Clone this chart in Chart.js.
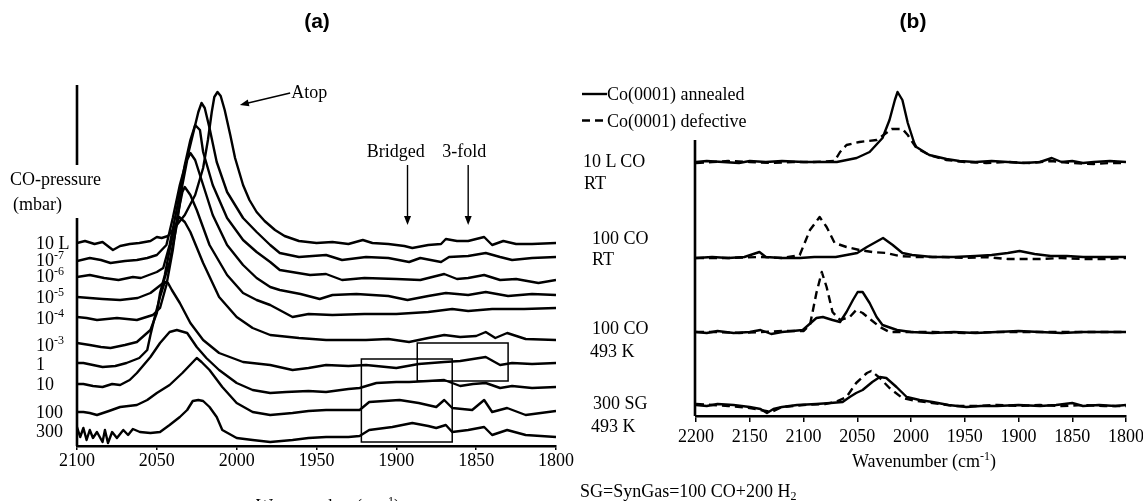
<!DOCTYPE html>
<html><head><meta charset="utf-8">
<script src="https://cdn.jsdelivr.net/npm/chart.js@4.4.1/dist/chart.umd.min.js"></script>
<style>
html,body{margin:0;padding:0;background:#fff;width:1143px;height:501px;overflow:hidden;position:relative;}
.box{position:absolute;}
.t{position:absolute;font-family:'Liberation Serif','Times New Roman',serif;font-size:18px;line-height:18px;color:#000;white-space:nowrap;}
.h{position:absolute;font-family:'Liberation Sans',Arial,sans-serif;font-weight:bold;font-size:21px;line-height:21px;width:100px;text-align:center;color:#000;}
sup{font-size:12px;vertical-align:7px;line-height:0;}
sub{font-size:12px;vertical-align:-3px;line-height:0;}
</style></head><body>
<div class="box" style="left:0;top:0;width:600px;height:501px"><canvas id="ca"></canvas></div>
<div class="box" style="left:560px;top:0;width:600px;height:501px"><canvas id="cb"></canvas></div>
<div class="h" style="left:267px;top:10px">(a)</div>
<div class="h" style="left:863px;top:10px">(b)</div>
<div class="t" style="left:10px;top:170px">CO-pressure</div>
<div class="t" style="left:13px;top:195px">(mbar)</div>
<div class="t" style="left:178px;top:497px;width:300px;text-align:center">Wavenumber (cm<sup>-1</sup>)</div>
<div class="t" style="left:774px;top:452px;width:300px;text-align:center">Wavenumber (cm<sup>-1</sup>)</div>
<div class="t" style="left:583px;top:152px">10 L CO</div>
<div class="t" style="left:584px;top:174px">RT</div>
<div class="t" style="left:592px;top:229px">100 CO</div>
<div class="t" style="left:592px;top:250px">RT</div>
<div class="t" style="left:592px;top:319px">100 CO</div>
<div class="t" style="left:590px;top:342px">493 K</div>
<div class="t" style="left:593px;top:394px">300 SG</div>
<div class="t" style="left:591px;top:417px">493 K</div>
<div class="t" style="left:580px;top:482px">SG=SynGas=100 CO+200 H<sub>2</sub></div>
<script>
// ---------- Panel (a): CO pressure series, [wavenumber cm-1, offset absorbance (a.u.)] ----------
const ticksA = [2100, 2050, 2000, 1950, 1900, 1850, 1800];
const ticksB = [2200, 2150, 2100, 2050, 2000, 1950, 1900, 1850, 1800];
const pressureLabels = ["10 L", "10^-7", "10^-6", "10^-5", "10^-4", "10^-3", "1", "10", "100", "300"];

const p10L = [[2100,203],[2095,205],[2089,202],[2084,204],[2077.5,196],[2073,200],[2067,202],[2061,203],[2054,205],[2050,209],[2047,208],[2043,210],[2039,218],[2032.5,231],[2026,251],[2021,278],[2018,306],[2015.6,334],[2014,349],[2012,354],[2010,350],[2007.5,336],[2004,311],[2001,288],[1996,261],[1992,246],[1987.5,234],[1982.5,225],[1976,216],[1970,210],[1961,205],[1950,203],[1940,204],[1930,202],[1921,206],[1915,203],[1905,202],[1895,200],[1890,198],[1880,201],[1872,202],[1869,207],[1862,205],[1855,205],[1845,209],[1840,201],[1833,205],[1825,202],[1815,202],[1800,203]];
const p1e7 = [[2100,185],[2092,188],[2085,186],[2079,183],[2070,185],[2062.5,186],[2056,188],[2050,191],[2044,201],[2040,228],[2035.6,261],[2031,288],[2027.5,311],[2024,334],[2022,343],[2020,338],[2017,318],[2012.5,284],[2006,254],[1996,228],[1987.5,214],[1979,201],[1973,193],[1961,189],[1944,191],[1934,186],[1919,189],[1905,188],[1892,184],[1885,188],[1872,184],[1867,189],[1855,190],[1844,193],[1835,189],[1827.5,186],[1815,188],[1800,189]];
const p1e6 = [[2100,169],[2092,171],[2083,168],[2074,166],[2065,169],[2060,168],[2050,174],[2046,178],[2042,201],[2037,241],[2032.5,281],[2029,306],[2026,321],[2023,316],[2021,294],[2015,261],[2006,228],[1996,206],[1987.5,194],[1979,184],[1973,176],[1954,171],[1944,172],[1934,166],[1920,168],[1900,167],[1885,166],[1870,172],[1862,167],[1855,168],[1845,171],[1835,166],[1825,167],[1811,163],[1800,166]];
const p1e5 = [[2100,149],[2092,148],[2084,147],[2073,146],[2062,148],[2054,153],[2046,163],[2042,184],[2037.5,221],[2034,261],[2031,286],[2029,293],[2026,286],[2021,261],[2015,231],[2006,201],[1996,181],[1987.5,168],[1979,159],[1973,156],[1960,152],[1948,147],[1940,151],[1925,152],[1905,150],[1893,146],[1880,150],[1869,153],[1855,151],[1844,154],[1830,150],[1815,152],[1800,151]];
const p1e4 = [[2100,129],[2094,128],[2087.5,126],[2075,128],[2062.5,126],[2052.5,131],[2048,138],[2044,161],[2040,196],[2037,231],[2034,254],[2032.5,259],[2029,251],[2025,236],[2017,201],[2006,171],[1996,153],[1987.5,146],[1979,141],[1965,129],[1955,132],[1940,131],[1920,132],[1900,132],[1880,134],[1865,137],[1855,135],[1840,137],[1820,137],[1800,138]];
const p1e3 = [[2100,103],[2092,101],[2085,99],[2079,98],[2070,101],[2062.5,104],[2054,116],[2050,133],[2048,153],[2045,171],[2042,196],[2039,218],[2036,229],[2032.5,224],[2029,214],[2021,183],[2011,149],[2000,129],[1990,118],[1979,111],[1961,108],[1944,106],[1930,106],[1919,106],[1905,107],[1892,104],[1880,108],[1870,111],[1860,109],[1850,110],[1844,114],[1838,108],[1830.6,113],[1819,107],[1800,106]];
const p1 = [[2100,83],[2096,83],[2090,81],[2084,79],[2076,80],[2069,83],[2061,88],[2056,96],[2054,111],[2051,131],[2048,149],[2046,159],[2045,164],[2043,163],[2040.6,156],[2035.6,143],[2029,123],[2021,106],[2011,93],[1996,84],[1979,81],[1965,76],[1955,78],[1944,81],[1930,80],[1919,81],[1900,78],[1886,82],[1870,84],[1860,85],[1844,89],[1835,81],[1827.5,83],[1815,82],[1800,83]];
const p10 = [[2100,62],[2096,62],[2090,60],[2084,59],[2078,62],[2073,61],[2067,66],[2062.5,73],[2054,89],[2048,103],[2042,114],[2037.5,116],[2031,113],[2025,99],[2019,88],[2011,76],[2000,63],[1990,56],[1979,53],[1969,54],[1955,55],[1944,54],[1930,57],[1923,58],[1912.5,63],[1900,64],[1892,64],[1880,65],[1870,66],[1860,60],[1852,62],[1844,63],[1835,58],[1827.5,60],[1815,58],[1800,59]];
const p100 = [[2100,34],[2096,34],[2092,33],[2087.5,31],[2080,35],[2073,39],[2062.5,41],[2056,46],[2050,53],[2042,61],[2034,73],[2028,83],[2025,88],[2022,84],[2017,76],[2009,59],[2000,43],[1990,34],[1979,31],[1965,33],[1955,35],[1944,36],[1930,36],[1923,36],[1917,44],[1898,46],[1886,43],[1875,39],[1870,46],[1865,38],[1852.5,36],[1845,46],[1840,34],[1830.6,38],[1819,31],[1800,35]];
const p300 = [[2100,19],[2098,9],[2096,18],[2094,6],[2092,16],[2090,8],[2087.5,14],[2084,4],[2082.5,16],[2080.6,3],[2078,14],[2075,8],[2071,16],[2068,11],[2065,17],[2060.6,14],[2054,13],[2048,14],[2042,21],[2035.6,29],[2031,36],[2027.5,45],[2024,46],[2021,45],[2017,39],[2012.5,29],[2009,16],[2000,8],[1990,6],[1979,4],[1965,6],[1955,8],[1944,9],[1930,9],[1923,10],[1917,16],[1902.5,19],[1890,23],[1880,20],[1875,18],[1869,21],[1865,14],[1855,16],[1845,19],[1840,11],[1830.6,16],[1819,11],[1800,9]];
const tracesA = [p10L, p1e7, p1e6, p1e5, p1e4, p1e3, p1, p10, p100, p300];

// annotations of panel (a), in data units
const axisSpanA = [0, 228];
const scaleBarA = [281, 361];
const atopArrow = { text: "Atop", from: [1966.5, 353], to: [1998, 341] };
const siteArrows = [
  { text: "Bridged", textAt: [1900.3, 289], wn: 1893, from: 281, to: 221 },
  { text: "3-fold", textAt: [1857.5, 289], wn: 1855, from: 281, to: 221 }
];
const boxesA = [[1921.9, 1865, 4, 87], [1886.9, 1830, 65, 103]];

// ---------- Panel (b): annealed (solid) vs defective (dashed) ----------
const legendB = ["Co(0001) annealed", "Co(0001) defective"];
const b1Ann = [[2200,254],[2190,255],[2175,254],[2160,253],[2150,255],[2135,254],[2120,255],[2100,254],[2085,254],[2069,254],[2050.6,258],[2038.5,264],[2026.5,278],[2020,296],[2015,316],[2012.5,324],[2008,316],[2003,293],[1997,273],[1995,269],[1983,261],[1967,257],[1955,255],[1940,254],[1925,255],[1910,254],[1895,253],[1880,254],[1869,258],[1860,254],[1850,255],[1840,253],[1830,254],[1815,255],[1800,254]];
const b1Def = [[2200,253],[2185,254],[2170,255],[2150,254],[2130,253],[2110,254],[2090,254],[2071,255],[2066,264],[2060,271],[2048,274],[2032,276],[2023,283],[2018,287],[2008,287],[2003,281],[1995,268],[1983,261],[1967,256],[1950,254],[1930,253],[1910,254],[1890,253],[1870,255],[1850,253],[1830,252],[1815,253],[1800,253]];
const b2Ann = [[2200,158],[2185,159],[2170,158],[2155,159],[2141,164],[2135,159],[2120,158],[2103,158],[2090,159],[2070,159],[2050,163],[2041,169],[2026,178],[2017,171],[2008,163],[1999,161],[1980,159],[1960,159],[1940,160],[1925,161],[1910,163],[1899,165],[1885,162],[1870,160],[1855,160],[1840,159],[1820,159],[1800,159]];
const b2Def = [[2200,158],[2170,158],[2140,159],[2120,158],[2103.5,161],[2094,186],[2085,199],[2078.5,189],[2071,173],[2060,169],[2048,166],[2036,164],[2023,163],[2011,160],[1995,159],[1970,159],[1950,158],[1930,159],[1910,157],[1899,157],[1880,157],[1860,158],[1840,157],[1820,157],[1800,158]];
const b3Ann = [[2200,84],[2190,83],[2180,85],[2165,83],[2150,84],[2140,86],[2130,82],[2120,84],[2110,85],[2100.7,86],[2088,98],[2082,99],[2073,96],[2066,94],[2060,104],[2054,116],[2049.6,124],[2045,124],[2038.5,113],[2032,99],[2026.5,91],[2013,86],[2000,84],[1980,83],[1960,84],[1940,83],[1920,84],[1900,85],[1880,84],[1860,83],[1840,84],[1820,84],[1800,84]];
const b3Def = [[2200,84],[2180,84],[2160,83],[2140,84],[2120,85],[2100,85],[2094,91],[2088,123],[2083,144],[2078.5,129],[2073,104],[2066,96],[2057,99],[2051,106],[2045,103],[2037,96],[2029,89],[2020,84],[2000,84],[1980,84],[1950,83],[1920,84],[1890,84],[1860,84],[1830,84],[1800,84]];
const b4Ann = [[2200,11],[2190,10],[2180,12],[2165,11],[2150,9],[2140,7],[2134,3],[2128,7],[2120,9],[2106,11],[2088,12],[2075,13],[2063.6,14],[2057,19],[2051,23],[2045,26],[2036,34],[2029,39],[2023,38],[2013.5,29],[2004,19],[1992,16],[1980,14],[1965,11],[1948.5,9],[1935,10],[1920,10],[1900,11],[1880,10],[1865,11],[1850,13],[1840,10],[1825,11],[1810,10],[1800,11]];
const b4Def = [[2200,12],[2185,11],[2170,10],[2150,8],[2140,6],[2130,4],[2120,9],[2100,11],[2080,12],[2070,14],[2060,19],[2051,33],[2041,43],[2037,45],[2029,38],[2020,28],[2008,18],[1995,15],[1980,13],[1960,10],[1940,10],[1920,11],[1900,10],[1880,11],[1860,10],[1840,11],[1820,10],[1800,10]];
const annealedB = [b1Ann, b2Ann, b3Ann, b4Ann];
const defectiveB = [b1Def, b2Def, b3Def, b4Def];
const axisSpanB = [0, 276];

// ---------- helpers ----------
const SERIF = "'Liberation Serif','Times New Roman',serif";
const LW = 2.4;
function toXY(arr){ return arr.map(p => ({x: p[0], y: p[1]})); }
function seg(ctx, x1, y1, x2, y2){ ctx.beginPath(); ctx.moveTo(x1, y1); ctx.lineTo(x2, y2); ctx.stroke(); }
function arrowHead(ctx, x1, y1, x2, y2, len, half){
  const a = Math.atan2(y2 - y1, x2 - x1);
  ctx.beginPath();
  ctx.moveTo(x2, y2);
  ctx.lineTo(x2 - len*Math.cos(a) + half*Math.sin(a), y2 - len*Math.sin(a) - half*Math.cos(a));
  ctx.lineTo(x2 - len*Math.cos(a) - half*Math.sin(a), y2 - len*Math.sin(a) + half*Math.cos(a));
  ctx.closePath(); ctx.fill();
}
function drawPowLabel(ctx, label, x, y){
  ctx.textAlign = 'left'; ctx.textBaseline = 'alphabetic';
  const parts = label.split('^');
  ctx.font = '18px ' + SERIF;
  ctx.fillText(parts[0], x, y);
  if (parts.length > 1){
    const w = ctx.measureText(parts[0]).width;
    ctx.font = '12px ' + SERIF;
    ctx.fillText(parts[1], x + w, y - 7);
  }
}

const annotA = {
  id: 'annotA',
  afterDraw(chart){
    const {ctx, scales: {x, y}} = chart;
    ctx.save();
    ctx.strokeStyle = '#000'; ctx.fillStyle = '#000';
    // y axis & intensity bar
    ctx.lineWidth = 2.6; ctx.lineCap = 'butt';
    const x0 = x.getPixelForValue(2100);
    seg(ctx, x0, y.getPixelForValue(axisSpanA[0]), x0, y.getPixelForValue(axisSpanA[1]));
    seg(ctx, x0, y.getPixelForValue(scaleBarA[0]), x0, y.getPixelForValue(scaleBarA[1]));
    // pressure labels next to the trace starts
    tracesA.forEach((tr, i) => {
      const lvl = tr.slice(0, 5).reduce((s, p) => s + p[1], 0) / 5;
      drawPowLabel(ctx, pressureLabels[i], 36, y.getPixelForValue(lvl) + 5);
    });
    // Atop arrow
    ctx.lineWidth = 1.4;
    const ax1 = x.getPixelForValue(atopArrow.from[0]), ay1 = y.getPixelForValue(atopArrow.from[1]);
    const ax2 = x.getPixelForValue(atopArrow.to[0]), ay2 = y.getPixelForValue(atopArrow.to[1]);
    seg(ctx, ax1, ay1, ax2 + 4, ay2 - 1);
    arrowHead(ctx, ax1, ay1, ax2, ay2, 9, 3.5);
    ctx.font = '18px ' + SERIF; ctx.textAlign = 'left'; ctx.textBaseline = 'alphabetic';
    ctx.fillText(atopArrow.text, ax1 + 1, ay1 + 5);
    // site arrows
    siteArrows.forEach(s => {
      const sx = x.getPixelForValue(s.wn);
      const sy1 = y.getPixelForValue(s.from), sy2 = y.getPixelForValue(s.to);
      seg(ctx, sx, sy1, sx, sy2 - 6);
      arrowHead(ctx, sx, sy1, sx, sy2, 9, 3.5);
      ctx.textAlign = 'center';
      ctx.fillText(s.text, x.getPixelForValue(s.textAt[0]), y.getPixelForValue(s.textAt[1]));
    });
    // boxes
    ctx.lineWidth = 1.5;
    boxesA.forEach(b => {
      const l = x.getPixelForValue(b[0]), r = x.getPixelForValue(b[1]);
      const bt = y.getPixelForValue(b[3]), bb = y.getPixelForValue(b[2]);
      ctx.strokeRect(l, bt, r - l, bb - bt);
    });
    ctx.restore();
  }
};

const annotB = {
  id: 'annotB',
  afterDraw(chart){
    const {ctx, scales: {x, y}} = chart;
    ctx.save();
    ctx.strokeStyle = '#000'; ctx.fillStyle = '#000';
    ctx.lineWidth = 2.6;
    const x0 = x.getPixelForValue(2200);
    seg(ctx, x0 - 1, y.getPixelForValue(axisSpanB[0]), x0 - 1, y.getPixelForValue(axisSpanB[1]));
    // legend
    const ds = chart.data.datasets;
    [0, 1].forEach(i => {
      const ly = 94 + i * 26.5;
      ctx.lineWidth = LW;
      ctx.setLineDash(ds[i].borderDash || []);
      seg(ctx, 22, ly, 47, ly);
      ctx.setLineDash([]);
      ctx.font = '18px ' + SERIF; ctx.textAlign = 'left'; ctx.textBaseline = 'alphabetic';
      ctx.fillText(legendB[i], 47, ly + 6);
    });
    ctx.restore();
  }
};

function lineDS(arr, dashed){
  return { data: toXY(arr), borderColor: '#000', borderWidth: LW, pointRadius: 0, tension: 0, fill: false,
           borderJoinStyle: 'round', borderDash: dashed ? [8, 5] : [] };
}
function xScale(min, max, ticksArr, tl, pad){
  return {
    type: 'linear', min: min, max: max, reverse: true,
    afterFit(s){ s.height = 30; },
    afterBuildTicks(s){ s.ticks = ticksArr.map(v => ({value: v})); },
    ticks: { callback: v => String(v), font: {family: SERIF, size: 18}, color: '#000', padding: pad, maxRotation: 0, autoSkip: false },
    grid: { display: true, drawOnChartArea: false, drawTicks: true, tickLength: tl, color: '#000', lineWidth: 1.5 },
    border: { display: true, color: '#000', width: 2.6 }
  };
}

new Chart(document.getElementById('ca'), {
  type: 'line',
  data: { datasets: tracesA.map(t => lineDS(t, false)) },
  options: {
    responsive: true, maintainAspectRatio: false, animation: false, devicePixelRatio: 1,
    layout: { padding: { left: 77, right: 44, top: 85, bottom: 25 } },
    plugins: { legend: { display: false }, tooltip: { enabled: false } },
    scales: { x: xScale(1800, 2100, ticksA, 4, 0), y: { display: false, min: 0, max: 361 } }
  },
  plugins: [annotA]
});

const dsB = [];
for (let i = 0; i < annealedB.length; i++){ dsB.push(lineDS(annealedB[i], false)); dsB.push(lineDS(defectiveB[i], true)); }
new Chart(document.getElementById('cb'), {
  type: 'line',
  data: { datasets: dsB },
  options: {
    responsive: true, maintainAspectRatio: false, animation: false, devicePixelRatio: 1,
    layout: { padding: { left: 136, right: 34, top: 80, bottom: 55 } },
    plugins: { legend: { display: false }, tooltip: { enabled: false } },
    scales: { x: xScale(1800, 2200, ticksB, 6, 4), y: { display: false, min: 0, max: 336 } }
  },
  plugins: [annotB]
});
</script>
</body></html>
